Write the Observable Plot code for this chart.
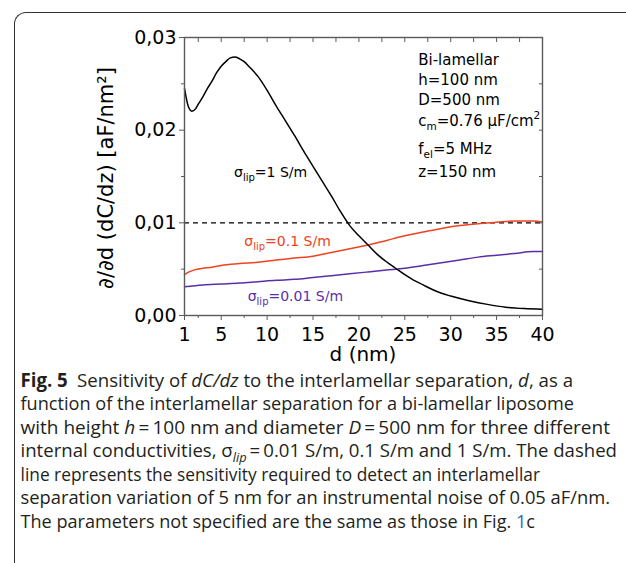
<!DOCTYPE html>
<html><head><meta charset="utf-8">
<script src="https://cdn.jsdelivr.net/npm/d3@7"></script>
<script src="https://cdn.jsdelivr.net/npm/@observablehq/plot@0.6"></script>
<style>
html,body{margin:0;padding:0;background:#fff;}
#wrap{position:relative;width:626px;height:563px;overflow:hidden;}
#frame{position:absolute;left:14px;top:12px;width:700px;height:700px;border-left:1.5px solid #333;border-top:1.5px solid #333;border-top-left-radius:12px;}
#chart{position:absolute;left:0;top:0;}
#caption{position:absolute;left:0;top:360px;}
</style></head>
<body><div id="wrap"><div id="frame"></div><div id="chart"></div><svg id="caption" width="626" height="203"></svg></div>
<script>
// ---- data ----
const dBlack = [1,1.4,1.8,2.2,2.5,3,3.5,4,4.5,5,5.5,6,6.5,7,7.5,8,9,10,11,12,13,14,15,16,17,18,19,20,21,22,23,24,25,26,27,28,29,30,32,34,36,38,40];
const sBlack = [0.0245,0.0226,0.02205,0.0223,0.0228,0.0236,0.0245,0.0253,0.0262,0.0269,0.0274,0.0278,0.0279,0.0277,0.0274,0.0269,0.0258,0.0243,0.0226,0.0210,0.0194,0.0177,0.0161,0.0145,0.0129,0.0112,0.0097,0.0086,0.0076,0.0066,0.0058,0.0051,0.0044,0.0038,0.0033,0.0028,0.0024,0.0021,0.0016,0.0012,0.0009,0.00075,0.00068];
const dRed = [1,1.5,2,3,4,5,7,9,11,13,15,17,19,21,23,25,27,29,31,33,35,37,39,40];
const sRed = [0.0044,0.0047,0.0049,0.0051,0.0052,0.0054,0.0056,0.00575,0.0060,0.0062,0.0064,0.0068,0.0072,0.0076,0.0081,0.0086,0.0090,0.0094,0.0097,0.0099,0.01005,0.0102,0.0102,0.0101];
const dPurple = [1,3,5,7,9,11,13,15,17,19,21,23,25,27,29,31,33,35,37,39,40];
const sPurple = [0.0031,0.0033,0.0034,0.0035,0.00365,0.0038,0.0039,0.0041,0.0043,0.0045,0.0047,0.0049,0.0051,0.0054,0.0057,0.0060,0.0063,0.0065,0.0067,0.0069,0.0069];
const thresholdValue = 0.01;
const xTicks = [1,5,10,15,20,25,30,35,40];
const xMinor = [2.5,7.5,12.5,17.5,22.5,27.5,32.5,37.5];
const yTicks = [0,0.01,0.02,0.03];
const yMinor = [0.005,0.015,0.025];
const RED = "#ee4320", PURPLE = "#5a2fa6";
const seriesLabels = [
  {rest:"=1 S/m", d:6.45, v:0.01492, color:"#000"},
  {rest:"=0.1 S/m", d:7.57, v:0.00748, color:RED},
  {rest:"=0.01 S/m", d:7.94, v:0.00156, color:PURPLE}
];
const infoLines = [
  [["Bi-lamellar"]],
  [["h=100 nm"]],
  [["D=500 nm"]],
  [["c"],["m","sub"],["=0.76 μF/cm"],["2","sup"]],
  [["f"],["el","sub"],["=5 MHz"]],
  [["z=150 nm"]]
];
const infoV = [0.02698,0.02482,0.02266,0.02040,0.01740,0.01489];
const infoD = 26.52;
const captionLines = [
  [["Fig. 5","b"],["\u2002Sensitivity of "],["dC/dz","i"],[" to the interlamellar separation, "],["d","i"],[", as a"]],
  [["function of the interlamellar separation for a bi-lamellar liposome"]],
  [["with height "],["h","i"],["\u2009=\u2009100 nm and diameter "],["D","i"],["\u2009=\u2009500 nm for three different"]],
  [["internal conductivities, σ"],["lip","isub"],["\u2009=\u20090.01 S/m, 0.1 S/m and 1 S/m. The dashed"]],
  [["line represents the sensitivity required to detect an interlamellar"]],
  [["separation variation of 5 nm for an instrumental noise of 0.05 aF/nm."]],
  [["The parameters not specified are the same as those in Fig. "],["1","blue"],["c"]]
];
const captionRight = [573, 574, 610, 617, 540, 610, 535];

const toRows = (ds, vs) => ds.map((d, i) => ({d, v: vs[i]}));
const F = "DejaVu Sans";
const AX = "#5a5a5a";

const plot = Plot.plot({
  width: 626, height: 370,
  marginLeft: 184, marginRight: 84, marginTop: 37, marginBottom: 55,
  style: {background: "transparent", fontFamily: F, color: "#000"},
  x: {domain: [1, 40]},
  y: {domain: [0, 0.03]},
  marks: [
    Plot.ruleY([thresholdValue], {stroke: "#000", strokeWidth: 1.3, strokeDasharray: "5,4"}),
    Plot.line(toRows(dPurple, sPurple), {x: "d", y: "v", stroke: PURPLE, strokeWidth: 1.5, curve: "monotone-x"}),
    Plot.line(toRows(dRed, sRed), {x: "d", y: "v", stroke: RED, strokeWidth: 1.5, curve: "monotone-x"}),
    Plot.line(toRows(dBlack, sBlack), {x: "d", y: "v", stroke: "#000", strokeWidth: 1.5, curve: "monotone-x"}),
    Plot.frame({stroke: AX, strokeWidth: 1.4}),
    Plot.axisX(xTicks, {anchor: "bottom", tickSize: 5, tickPadding: 7, stroke: AX, fontSize: 19, fill: "#000", tickFormat: d => String(d), label: null}),
    Plot.axisX(xMinor, {anchor: "bottom", tickSize: 3, stroke: AX, text: null, label: null}),
    Plot.axisX(xTicks.concat(xMinor), {anchor: "top", tickSize: -4, stroke: AX, text: null, label: null}),
    Plot.axisY(yTicks, {anchor: "left", tickSize: 5, tickPadding: 3, stroke: AX, fontSize: 19, fill: "#000", tickFormat: v => v.toFixed(2).replace(".", ","), label: null}),
    Plot.axisY(yMinor, {anchor: "left", tickSize: 3, stroke: AX, text: null, label: null}),
    Plot.axisY(yTicks.concat(yMinor), {anchor: "right", tickSize: -4, stroke: AX, text: null, label: null})
  ]
});
document.getElementById("chart").appendChild(plot);

const xs = plot.scale("x"), ys = plot.scale("y");
const svg = d3.select(plot);
const g = svg.append("g").attr("font-family", F).attr("text-anchor", "start");

// axis titles
g.append("text").attr("x", (xs.apply(1) + xs.apply(40)) / 2).attr("y", 361)
  .attr("text-anchor", "middle").attr("font-size", 20).text("d (nm)");
g.append("text").attr("transform", `translate(113,${(ys.apply(0) + ys.apply(0.03)) / 2 + 2}) rotate(-90)`)
  .attr("text-anchor", "middle").attr("font-size", 21).text("∂/∂d (dC/dz) [aF/nm²]");

// series labels
for (const s of seriesLabels) {
  const t = g.append("text").attr("x", xs.apply(s.d)).attr("y", ys.apply(s.v)).attr("fill", s.color).attr("font-size", 14);
  t.append("tspan").text("σ");
  t.append("tspan").attr("font-size", 10).attr("dy", 4).text("lip");
  t.append("tspan").attr("dy", -4).text(s.rest);
}

// info block
infoLines.forEach((parts, i) => {
  const t = g.append("text").attr("x", xs.apply(infoD)).attr("y", ys.apply(infoV[i])).attr("font-size", 15);
  let shift = 0;
  for (const [txt, kind] of parts) {
    const sp = t.append("tspan").text(txt);
    const target = kind === "sub" ? 4 : kind === "sup" ? -7 : 0;
    if (kind) sp.attr("font-size", 10.5);
    if (target !== shift) { sp.attr("dy", target - shift); shift = target; }
  }
});

// caption
const cap = d3.select("#caption").attr("font-family", "Open Sans").attr("font-size", 19).attr("fill", "#231f20");
captionLines.forEach((parts, i) => {
  const t = cap.append("text").attr("x", 20.5).attr("y", 26.7 + i * 23.47)
    .attr("textLength", captionRight[i] - 20.5).attr("lengthAdjust", "spacingAndGlyphs")
    .style("white-space", "pre");
  let shift = 0;
  for (const [txt, kind] of parts) {
    const sp = t.append("tspan").text(txt);
    if (kind === "b") sp.attr("font-weight", "bold");
    if (kind === "i" || kind === "isub") sp.attr("font-style", "italic");
    if (kind === "blue") sp.attr("fill", "#2b6cb8");
    const target = kind === "isub" ? 5 : 0;
    if (kind === "isub") sp.attr("font-size", 13);
    if (target !== shift) { sp.attr("dy", target - shift); shift = target; }
  }
});
</script>
</body></html>
